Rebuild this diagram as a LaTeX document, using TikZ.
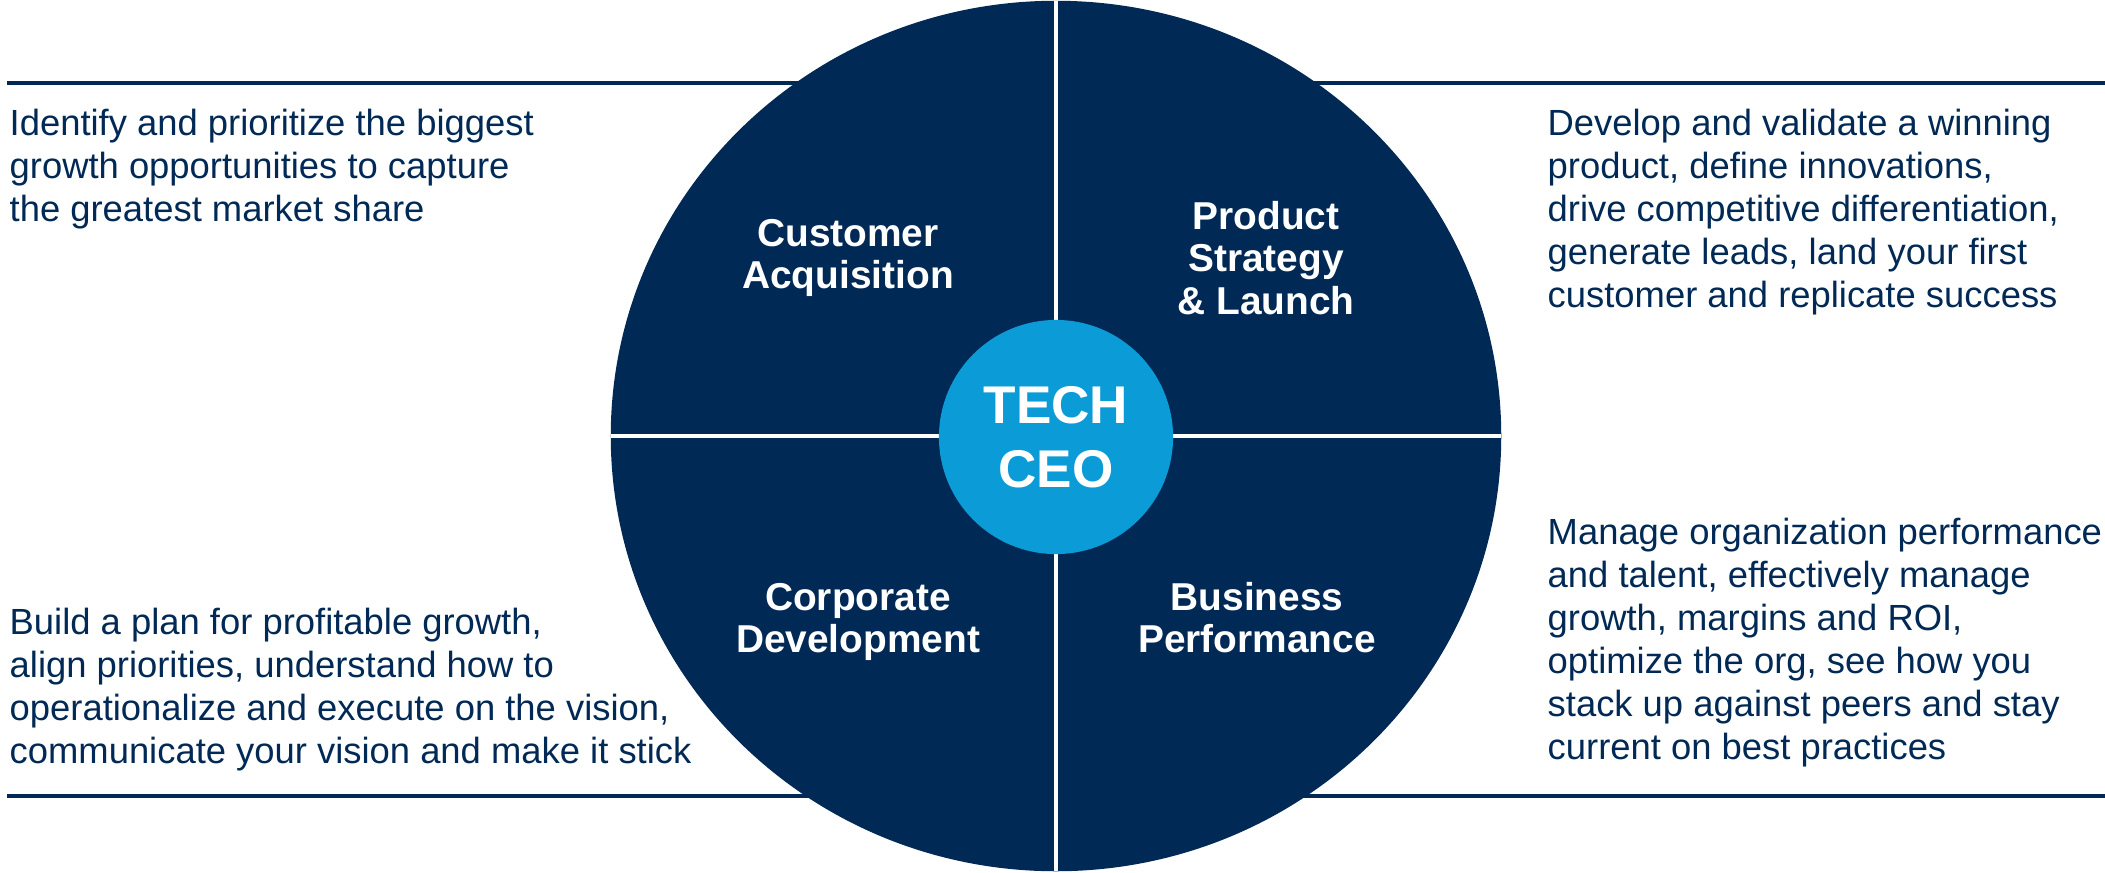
\documentclass[tikz,border=0pt]{standalone}
\usepackage{fontspec}
\setmainfont{Liberation Sans}
\usetikzlibrary{shapes.geometric}
\definecolor{ceonavy}{RGB}{1,41,86}
\definecolor{skyblue}{RGB}{11,155,214}
\newcommand\bodyfnt{\fontsize{10.35pt}{12.23pt}\selectfont}
\newcommand\titlefnt{\fontsize{11.05pt}{12.1pt}\selectfont\bfseries}
\newcommand\ceofnt{\fontsize{15.1pt}{18.3pt}\selectfont\bfseries}
\begin{document}
\begin{tikzpicture}[x=0.01cm,y=-0.01cm,
  rule/.style={ceonavy, line width=0.045cm},
  divider/.style={white, line width=0.045cm},
  body/.style={text=ceonavy, font=\bodyfnt, inner sep=0pt, anchor=base west},
  quad/.style={text=white, font=\titlefnt, inner sep=0pt, anchor=base},
  hub/.style={circle, fill=skyblue, text=white, font=\ceofnt, align=center, inner sep=0pt, outer sep=0pt, minimum size=2.34cm},
  disc/.style={ellipse, fill=ceonavy, inner sep=0pt, outer sep=0pt, minimum width=8.9cm, minimum height=8.7cm}]
\useasboundingbox (0,0) rectangle (2105,872);
\coordinate (tlA) at (7,83);
\coordinate (tlB) at (2105,83);
\coordinate (blA) at (7,796);
\coordinate (blB) at (2105,796);
\draw[rule] (tlA) -- (tlB);
\draw[rule] (blA) -- (blB);
\node[disc] (disc) at (1056,436) {};
\draw[divider] (disc.north) -- (disc.south);
\draw[divider] (disc.west) -- (disc.east);
\node[hub] (ceo) at (1056,437) {TECH\\CEO};
\node[quad] (ca) at (848,246) {\parbox[t]{5cm}{\centering Customer\\Acquisition}};
\node[quad] (ps) at (1266,229) {\parbox[t]{5cm}{\centering Product\\Strategy\\\& Launch}};
\node[quad] (cd) at (858,610) {\parbox[t]{5cm}{\centering Corporate\\Development}};
\node[quad] (bp) at (1257,610) {\parbox[t]{5cm}{\centering Business\\Performance}};
\node[body] (tl) at (9,135) {\parbox[t]{7cm}{\raggedright Identify and prioritize the biggest\\growth opportunities to capture\\the greatest market share}};
\node[body] (tr) at (1547,135) {\parbox[t]{7cm}{\raggedright Develop and validate a winning\\product, define innovations,\\drive competitive differentiation,\\generate leads, land your first\\customer and replicate success}};
\node[body] (bl) at (9,634) {\parbox[t]{7cm}{\raggedright Build a plan for profitable growth,\\align priorities, understand how to\\operationalize and execute on the vision,\\communicate your vision and make it stick}};
\node[body] (br) at (1547,544) {\parbox[t]{7cm}{\raggedright Manage organization performance\\and talent, effectively manage\\growth, margins and ROI,\\optimize the org, see how you\\stack up against peers and stay\\current on best practices}};
\end{tikzpicture}
\end{document}
